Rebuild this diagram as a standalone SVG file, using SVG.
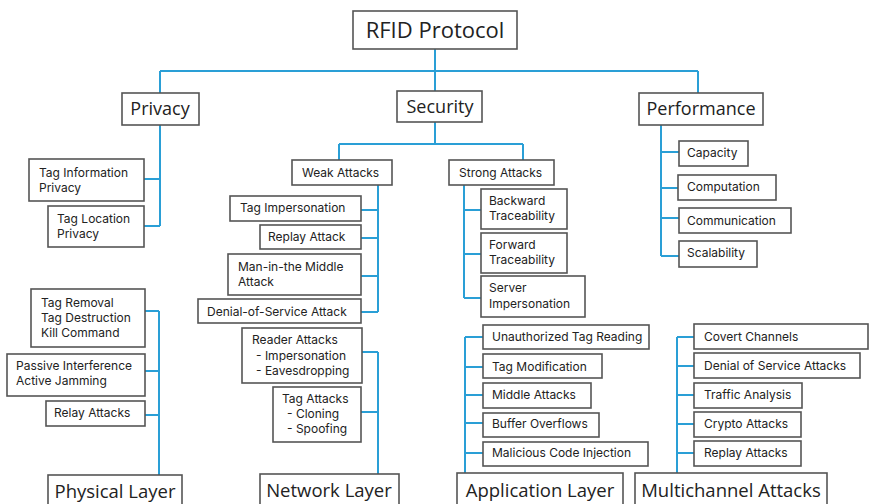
<svg xmlns="http://www.w3.org/2000/svg" width="869" height="504" viewBox="0 0 869 504">
<style>
.b{fill:#fff;stroke:#555;stroke-width:1.6}
.c{fill:none;stroke:#2a9fd6;stroke-width:2}
text{font-family:"Open Sans","Noto Sans",sans-serif;fill:#222}
.s{font-family:Inter,"Open Sans",sans-serif;font-size:12px}
.m{font-size:18px;text-anchor:middle}
.L{font-size:18.5px;text-anchor:middle}
.t{font-size:22px;text-anchor:middle}
</style>
<rect width="869" height="504" fill="#fff"/>
<g id="connectors" class="c">
<path d="M435 49V91M160 71H698M160 71V93M698 71V93"/>
<path d="M160 125V226M144 179H160M144 226H160"/>
<path d="M435 122V144M339 144H523M339 144V160M523 144V160"/>
<path d="M378 185V312M361 210H378M361 238H378M361 276H378M361 312H378"/>
<path d="M464 185V298M464 210H481M464 254H481M464 298H481"/>
<path d="M661 125V256M661 152H679M661 188H678M661 218H679M661 256H679"/>
<path d="M159 311V475M145 311H159M145 371H159M145 415H159"/>
<path d="M378 352V474M362 352H378M361 412H378"/>
<path d="M465 337V473M465 337H483M465 367H483M465 395H483M465 423H483M465 453H483"/>
<path d="M677 337V473M677 337H694M677 366H694M677 395H694M677 424H694M677 453H694"/>
</g>
<g id="rfid"><rect class="b" x="353" y="11" width="164" height="38"/><text class="t" x="435" y="38">RFID Protocol</text></g>
<g id="privacy"><rect class="b" x="122" y="93" width="77" height="32"/><text class="m" x="160" y="115">Privacy</text></g>
<g id="security"><rect class="b" x="397" y="91" width="85" height="31"/><text class="m" x="440" y="113">Security</text></g>
<g id="performance"><rect class="b" x="639" y="93" width="124" height="32"/><text class="m" x="701" y="115">Performance</text></g>
<g id="tag-info"><rect class="b" x="29" y="159" width="115" height="42"/><text class="s" x="39" y="177">Tag Information</text><text class="s" x="39" y="192">Privacy</text></g>
<g id="tag-loc"><rect class="b" x="48" y="206" width="96" height="41"/><text class="s" x="57" y="223">Tag Location</text><text class="s" x="57" y="238">Privacy</text></g>
<g id="weak"><rect class="b" x="292" y="160" width="100" height="25"/><text class="s" x="302" y="177">Weak Attacks</text></g>
<g id="strong"><rect class="b" x="449" y="160" width="105" height="25"/><text class="s" x="459" y="177">Strong Attacks</text></g>
<g id="tag-imp"><rect class="b" x="230" y="196" width="131" height="25"/><text class="s" x="240" y="212">Tag Impersonation</text></g>
<g id="replay"><rect class="b" x="260" y="225" width="101" height="24"/><text class="s" x="268" y="241">Replay Attack</text></g>
<g id="mitm"><rect class="b" x="228" y="254" width="133" height="41"/><text class="s" x="238" y="271">Man-in-the Middle</text><text class="s" x="238" y="286">Attack</text></g>
<g id="dos"><rect class="b" x="198" y="299" width="163" height="24"/><text class="s" x="207" y="316">Denial-of-Service  Attack</text></g>
<g id="backward"><rect class="b" x="481" y="189" width="86" height="40"/><text class="s" x="489" y="205">Backward</text><text class="s" x="489" y="220">Traceability</text></g>
<g id="forward"><rect class="b" x="481" y="233" width="86" height="40"/><text class="s" x="489" y="249">Forward</text><text class="s" x="489" y="264">Traceability</text></g>
<g id="server"><rect class="b" x="481" y="276" width="104" height="41"/><text class="s" x="489" y="292">Server</text><text class="s" x="489" y="308">Impersonation</text></g>
<g id="capacity"><rect class="b" x="679" y="141" width="69" height="25"/><text class="s" x="687" y="157">Capacity</text></g>
<g id="computation"><rect class="b" x="678" y="175" width="98" height="25"/><text class="s" x="687" y="191">Computation</text></g>
<g id="communication"><rect class="b" x="679" y="208" width="112" height="25"/><text class="s" x="687" y="225">Communication</text></g>
<g id="scalability"><rect class="b" x="679" y="241" width="78" height="26"/><text class="s" x="687" y="257">Scalability</text></g>
<g id="tag-removal"><rect class="b" x="31" y="289" width="114" height="58"/><text class="s" x="41" y="307">Tag Removal</text><text class="s" x="41" y="322">Tag Destruction</text><text class="s" x="41" y="337">Kill Command</text></g>
<g id="passive"><rect class="b" x="7" y="354" width="138" height="42"/><text class="s" x="16" y="370">Passive Interference</text><text class="s" x="16" y="385">Active Jamming</text></g>
<g id="relay"><rect class="b" x="46" y="401" width="99" height="25"/><text class="s" x="54" y="417">Relay Attacks</text></g>
<g id="physical"><rect class="b" x="48" y="475" width="134" height="35"/><text class="L" x="115" y="498">Physical Layer</text></g>
<g id="reader"><rect class="b" x="242" y="328" width="120" height="55"/><text class="s" x="252" y="344">Reader Attacks</text><text class="s" x="256" y="360">- Impersonation</text><text class="s" x="256" y="375">- Eavesdropping</text></g>
<g id="tag-attacks"><rect class="b" x="273" y="387" width="88" height="55"/><text class="s" x="282" y="403">Tag Attacks</text><text class="s" x="287" y="418">- Cloning</text><text class="s" x="287" y="433">- Spoofing</text></g>
<g id="network"><rect class="b" x="260" y="474" width="139" height="36"/><text class="L" x="329" y="497">Network Layer</text></g>
<g id="unauth"><rect class="b" x="483" y="325" width="166" height="24"/><text class="s" x="492" y="341">Unauthorized Tag Reading</text></g>
<g id="tag-mod"><rect class="b" x="483" y="354" width="119" height="24"/><text class="s" x="492" y="371">Tag Modification</text></g>
<g id="middle"><rect class="b" x="483" y="383" width="108" height="25"/><text class="s" x="492" y="399">Middle Attacks</text></g>
<g id="buffer"><rect class="b" x="483" y="413" width="116" height="24"/><text class="s" x="492" y="428">Buffer Overflows</text></g>
<g id="malicious"><rect class="b" x="483" y="442" width="165" height="24"/><text class="s" x="492" y="457">Malicious Code Injection</text></g>
<g id="application"><rect class="b" x="457" y="473" width="166" height="37"/><text class="L" x="540" y="497">Application Layer</text></g>
<g id="covert"><rect class="b" x="694" y="324" width="174" height="25"/><text class="s" x="704" y="341">Covert Channels</text></g>
<g id="dos2"><rect class="b" x="694" y="353" width="166" height="25"/><text class="s" x="704" y="370">Denial of Service Attacks</text></g>
<g id="traffic"><rect class="b" x="694" y="383" width="108" height="25"/><text class="s" x="704" y="399">Traffic Analysis</text></g>
<g id="crypto"><rect class="b" x="694" y="412" width="107" height="25"/><text class="s" x="704" y="428">Crypto Attacks</text></g>
<g id="replay2"><rect class="b" x="694" y="441" width="107" height="25"/><text class="s" x="704" y="457">Replay Attacks</text></g>
<g id="multichannel"><rect class="b" x="635" y="473" width="192" height="37"/><text class="L" x="731" y="497">Multichannel Attacks</text></g>
</svg>
